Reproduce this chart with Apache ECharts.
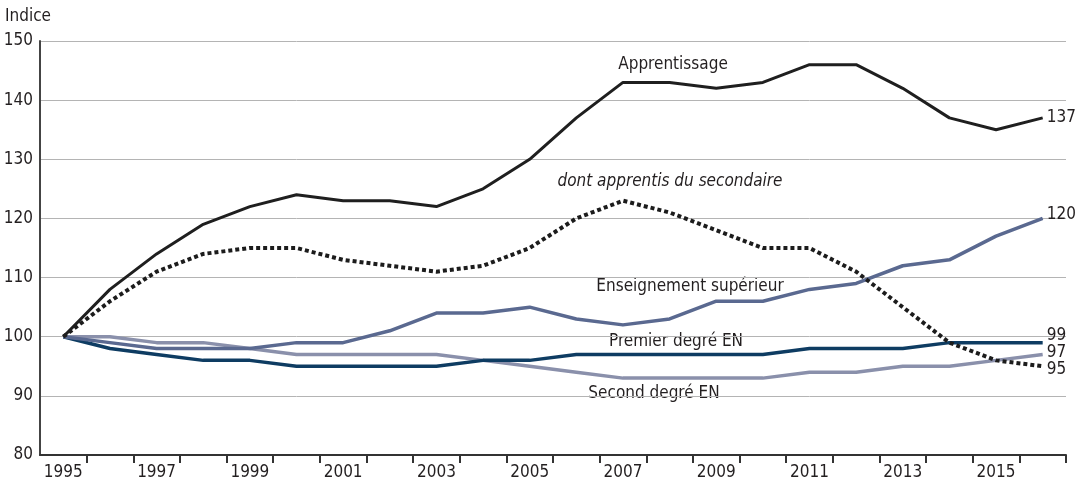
<!DOCTYPE html>
<html><head><meta charset="utf-8">
<script src="https://cdn.jsdelivr.net/npm/echarts@6/dist/echarts.min.js"></script>
<style>html,body{margin:0;padding:0;background:#fff}#c{width:1082px;height:483px}</style>
</head><body><div id="c"></div>
<script>
const years = ['1995','1996','1997','1998','1999','2000','2001','2002','2003','2004','2005','2006','2007','2008','2009','2010','2011','2012','2013','2014','2015','2016'];
const apprentissage = [100,108,114,119,122,124,123,123,122,125,130,137,143,143,142,143,146,146,142,137,135,137];
const apprentisSecondaire = [100,106,111,114,115,115,113,112,111,112,115,120,123,121,118,115,115,111,105,99,96,95];
const enseignementSup = [100,99,98,98,98,99,99,101,104,104,105,103,102,103,106,106,108,109,112,113,117,120];
const premierDegre = [100,98,97,96,96,95,95,95,95,96,96,97,97,97,97,97,98,98,98,99,99,99];
const secondDegre = [100,100,99,99,98,97,97,97,97,96,95,94,93,93,93,93,94,94,95,95,96,97];
const yTicks = [80,90,100,110,120,130,140,150];

const FONT = "'Liberation Sans Narrow','DejaVu Sans Condensed',sans-serif";
const TXT = '#231f20';
function endLbl(dy){
  return {show:true, formatter:'{c}', color:TXT, fontFamily:FONT, fontSize:17, distance:4, offset:[0,dy]};
}
function mk(name, data, color, width, type, dy, z){
  return {name, type:'line', data, symbol:'none', smooth:false, z:z,
    lineStyle:{color, width, type:type||'solid', cap:'butt', join:'round'},
    endLabel:endLbl(dy), emphasis:{disabled:true}, silent:true};
}
const chart = echarts.init(document.getElementById('c'), null, {renderer:'canvas'});
chart.setOption({
  animation:false,
  grid:{left:40, right:16, top:41, bottom:28, containLabel:false},
  xAxis:{type:'category', data:years, boundaryGap:true,
    axisLine:{lineStyle:{color:'#333', width:2}},
    axisTick:{show:true, length:8, lineStyle:{color:'#333', width:2}, interval:function(i){return i!==0;}},
    axisLabel:{interval:1, color:TXT, fontFamily:FONT, fontSize:17, margin:9},
    splitLine:{show:false}},
  yAxis:{type:'value', min:yTicks[0], max:yTicks[yTicks.length-1], interval:10,
    axisLine:{show:true, lineStyle:{color:'#444', width:2}},
    axisTick:{show:false},
    axisLabel:{color:TXT, fontFamily:FONT, fontSize:17, margin:7},
    splitLine:{show:true, lineStyle:{color:'#b4b4b4', width:1}}},
  series:[
    mk('Second degré EN', secondDegre, '#8a90ab', 3.5, 'solid', -2, 2),
    mk('Premier degré EN', premierDegre, '#0e3c62', 3.5, 'solid', -7, 3),
    mk('Enseignement supérieur', enseignementSup, '#5a6990', 3.5, 'solid', -4, 4),
    mk('dont apprentis du secondaire', apprentisSecondaire, '#1c1c1c', 4, [4,3], 3, 5),
    mk('Apprentissage', apprentissage, '#1f1f1f', 3, 'solid', 0, 6)
  ],
  graphic:[
    {type:'text', left:5, top:8, style:{text:'Indice', fill:TXT, font:"17px "+FONT}},
    {type:'text', x:673, y:65, style:{text:'Apprentissage', fill:TXT, font:"17px "+FONT, align:'center', verticalAlign:'middle'}},
    {type:'text', x:670, y:182, style:{text:'dont apprentis du secondaire', fill:TXT, font:"italic 17px "+FONT, align:'center', verticalAlign:'middle'}},
    {type:'text', x:690, y:287, style:{text:'Enseignement supérieur', fill:TXT, font:"17px "+FONT, align:'center', verticalAlign:'middle'}},
    {type:'text', x:676, y:342, style:{text:'Premier degré EN', fill:TXT, font:"17px "+FONT, align:'center', verticalAlign:'middle'}},
    {type:'text', x:654, y:394, style:{text:'Second degré EN', fill:TXT, font:"17px "+FONT, align:'center', verticalAlign:'middle'}}
  ]
});
</script></body></html>
